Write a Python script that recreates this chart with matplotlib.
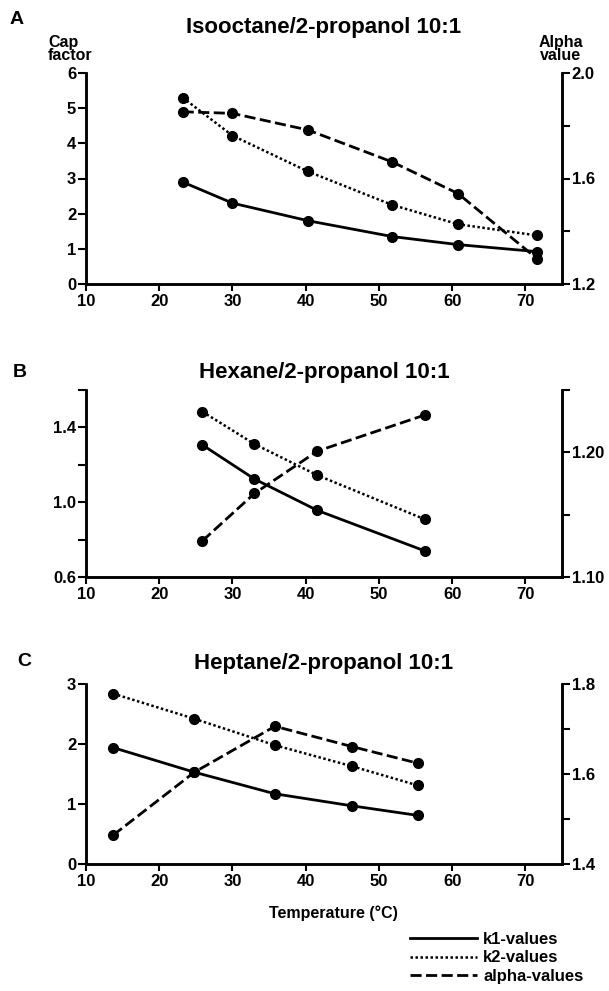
import matplotlib
matplotlib.use("Agg")
import matplotlib.pyplot as plt
from matplotlib.lines import Line2D

plt.rcParams['font.family'] = ['Liberation Sans', 'DejaVu Sans']
plt.rcParams['font.weight'] = 'bold'

# Panel A: Isooctane/2-propanol 10:1
temp_a = [23.2, 30.0, 40.3, 51.8, 60.8, 71.6]
k1_a = [2.90, 2.30, 1.80, 1.35, 1.12, 0.92]
k2_a = [5.30, 4.22, 3.20, 2.25, 1.70, 1.38]
alpha_a = [1.853, 1.847, 1.784, 1.663, 1.543, 1.296]

# Panel B: Hexane/2-propanol 10:1
temp_b = [25.9, 33.0, 41.6, 56.3]
k1_b = [1.306, 1.124, 0.956, 0.739]
k2_b = [1.484, 1.311, 1.144, 0.908]
alpha_b = [1.129, 1.167, 1.201, 1.230]

# Panel C: Heptane/2-propanol 10:1
temp_c = [13.7, 24.8, 35.8, 46.3, 55.3]
k1_c = [1.94, 1.53, 1.17, 0.97, 0.81]
k2_c = [2.84, 2.42, 1.98, 1.63, 1.31]
alpha_c = [1.464, 1.604, 1.706, 1.661, 1.624]

xticks = [10, 20, 30, 40, 50, 60, 70]

W, H = 609, 991
fig = plt.figure(figsize=(W / 100, H / 100), dpi=100)

solid = dict(color='black', lw=2.0, linestyle='-')
dotted = dict(color='black', lw=1.8, linestyle=(0, (1, 1)))
dashed = dict(color='black', lw=2.0, linestyle=(0, (4, 1.6)))
mk = dict(marker='o', markersize=7, markerfacecolor='black', markeredgecolor='black')
TICK_FS = 12


def make_panel(top, bottom, letter, letter_xy, title, title_y, temp, k1, k2, alpha,
               ylim, yticks, ylabels, rlim, rticks, rlabels):
    ax = fig.add_axes([86 / W, 1 - bottom / H, 476 / W, (bottom - top) / H])
    ax2 = ax.twinx()
    ax.plot(temp, k1, **solid, **mk)
    ax.plot(temp, k2, **dotted, **mk)
    ax2.plot(temp, alpha, **dashed, **mk)
    ax.set_xlim(10, 75)
    ax.set_ylim(*ylim)
    ax2.set_ylim(*rlim)
    ax.set_xticks(xticks)
    ax.set_xticklabels([str(t) for t in xticks], fontsize=TICK_FS, fontweight='bold')
    ax.set_yticks(yticks)
    ax.set_yticklabels(ylabels, fontsize=TICK_FS, fontweight='bold')
    ax2.set_yticks(rticks)
    ax2.set_yticklabels(rlabels, fontsize=TICK_FS, fontweight='bold')
    for a in (ax, ax2):
        a.spines['top'].set_visible(False)
        for s in ('left', 'right', 'bottom'):
            a.spines[s].set_linewidth(1.8)
        a.tick_params(width=1.5, length=6, pad=1)
    ax.tick_params(axis='x', length=5, pad=2)
    fig.text(letter_xy[0] / W, 1 - letter_xy[1] / H, letter, fontsize=14,
             fontweight='bold', ha='center', va='center')
    fig.text(324 / W, 1 - title_y / H, title, fontsize=16, fontweight='bold',
             ha='center', va='center')
    return ax, ax2


make_panel(73, 284, 'A', (17, 20), 'Isooctane/2-propanol 10:1', 28,
           temp_a, k1_a, k2_a, alpha_a,
           (0, 6), [0, 1, 2, 3, 4, 5, 6], ['0', '1', '2', '3', '4', '5', '6'],
           (1.2, 2.0), [1.2, 1.4, 1.6, 1.8, 2.0], ['1.2', '', '1.6', '', '2.0'])
fig.text(48 / W, 1 - 49 / H, 'Cap\nfactor', fontsize=11.5, fontweight='bold',
         ha='left', va='center', linespacing=0.9)
fig.text(561 / W, 1 - 49 / H, 'Alpha\nvalue', fontsize=11.5, fontweight='bold',
         ha='center', va='center', linespacing=0.9)

make_panel(390, 577, 'B', (20, 372), 'Hexane/2-propanol 10:1', 372,
           temp_b, k1_b, k2_b, alpha_b,
           (0.6, 1.6), [0.6, 0.8, 1.0, 1.2, 1.4, 1.6], ['0.6', '', '1.0', '', '1.4', ''],
           (1.10, 1.25), [1.10, 1.15, 1.20, 1.25], ['1.10', '', '1.20', ''])

make_panel(684, 864, 'C', (24, 662), 'Heptane/2-propanol 10:1', 663,
           temp_c, k1_c, k2_c, alpha_c,
           (0, 3), [0, 1, 2, 3], ['0', '1', '2', '3'],
           (1.4, 1.8), [1.4, 1.5, 1.6, 1.7, 1.8], ['1.4', '', '1.6', '', '1.8'])
fig.text(333 / W, 1 - 913 / H, 'Temperature (°C)', fontsize=11.5, fontweight='bold',
         ha='center', va='center')

handles = [Line2D([], [], **solid), Line2D([], [], **dotted), Line2D([], [], **dashed)]
fig.legend(handles, ['k1-values', 'k2-values', 'alpha-values'], loc='upper left',
           bbox_to_anchor=(410 / W, 1 - 932 / H), frameon=False,
           handlelength=4.0, handletextpad=0.4, labelspacing=0.2, borderaxespad=0,
           borderpad=0, prop={'weight': 'bold', 'size': 12})

fig.savefig('out.png', dpi=100)
